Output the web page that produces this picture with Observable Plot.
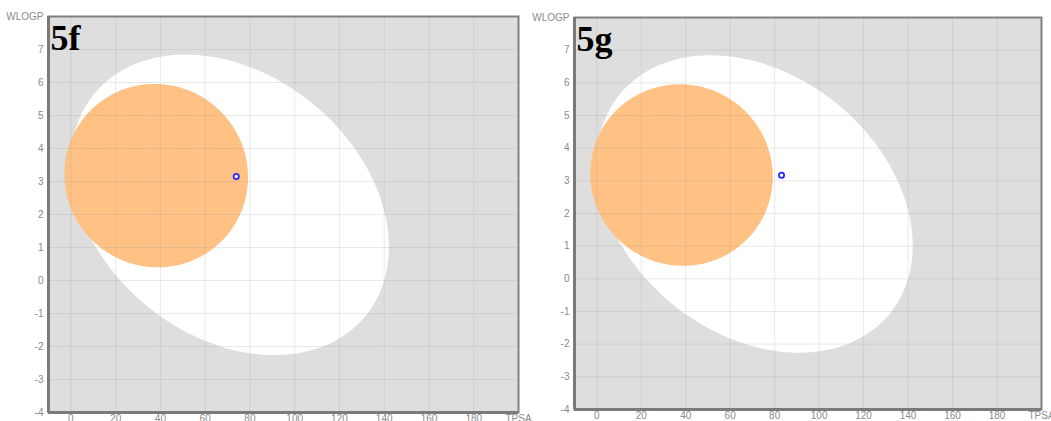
<!DOCTYPE html>
<html><head><meta charset="utf-8">
<script src="https://cdn.jsdelivr.net/npm/d3@7"></script>
<script src="https://cdn.jsdelivr.net/npm/@observablehq/plot@0.6"></script>
<style>
body{margin:0;background:#fff;width:1051px;height:421px;overflow:hidden;position:relative;font-family:Arial,"Liberation Sans",sans-serif}
.panel{position:absolute;top:0}
</style></head><body>
<div id="p1" class="panel" style="left:0"></div>
<div id="p2" class="panel" style="left:525px"></div>
<script>
// Data
const panelLabels = ["5f", "5g"];
const moleculeTPSA = [73.9, 83.1];
const moleculeWLOGP = [3.15, 3.17];
const xTicks = [0, 20, 40, 60, 80, 100, 120, 140, 160, 180, 200];
const yTicks = [-4, -3, -2, -1, 0, 1, 2, 3, 4, 5, 6, 7, 8];
const xAxisName = "TPSA";
const yAxisName = "WLOGP";
// BOILED-Egg ellipse definitions (center, full width, full height, angle in degrees)
const whiteEgg = {cx: 71.051, cy: 2.292, w: 142.081, h: 8.740, angle: -1.031325};
const yolkEgg = {cx: 38.117, cy: 3.177, w: 82.061, h: 5.557, angle: -0.066235};

function ellipsePoints(e, n = 240) {
  const a = e.w / 2, b = e.h / 2, th = e.angle * Math.PI / 180;
  const c = Math.cos(th), s = Math.sin(th);
  return d3.range(n + 1).map(i => {
    const t = 2 * Math.PI * i / n;
    return {x: e.cx + a * c * Math.cos(t) - b * s * Math.sin(t),
            y: e.cy + a * s * Math.cos(t) + b * c * Math.sin(t)};
  });
}
const whitePts = ellipsePoints(whiteEgg);
const yolkPts = ellipsePoints(yolkEgg);

const layouts = [
  {el: "#p1", width: 525, marginLeft: 48, marginRight: 7, marginTop: 16, marginBottom: 9},
  {el: "#p2", width: 526, marginLeft: 49, marginRight: 10, marginTop: 17, marginBottom: 12}
];

layouts.forEach((L, i) => {
  const mol = [{x: moleculeTPSA[i], y: moleculeWLOGP[i]}];
  const chart = Plot.plot({
    width: L.width, height: 421,
    marginLeft: L.marginLeft, marginRight: L.marginRight,
    marginTop: L.marginTop, marginBottom: L.marginBottom,
    style: {fontSize: "10px", color: "#8a8a8a", fontFamily: "Arial, 'Liberation Sans', sans-serif", background: "transparent", overflow: "visible"},
    x: {domain: [-10, 200], label: null},
    y: {domain: [-4, 8], label: null},
    marks: [
      Plot.frame({fill: "#dedede", stroke: null}),
      Plot.line(whitePts, {x: "x", y: "y", fill: "white", stroke: "none"}),
      Plot.line(yolkPts, {x: "x", y: "y", fill: "#ffbf80", stroke: "none", fillOpacity: 0.97}),
      Plot.gridX(xTicks.slice(0, -1), {stroke: "#999", strokeOpacity: 0.22, strokeWidth: 1}),
      Plot.gridY(yTicks.slice(1, -1), {stroke: "#999", strokeOpacity: 0.22, strokeWidth: 1}),
      Plot.axisX(xTicks, {tickSize: 0, tickPadding: 2, label: null,
        tickFormat: d => d === 200 ? xAxisName : String(d), fill: "#8a8a8a"}),
      Plot.axisY(yTicks, {tickSize: 0, tickPadding: 5, label: null,
        tickFormat: d => d === 8 ? yAxisName : String(d), fill: "#8a8a8a"}),
      Plot.frame({stroke: "#808080", strokeWidth: 2}),
      Plot.ruleX([-10], {stroke: "#7a7a7a", strokeWidth: 3}),
      Plot.ruleY([-4], {stroke: "#7a7a7a", strokeWidth: 3}),
      Plot.dot(mol, {x: "x", y: "y", r: 2.6, stroke: "#2b2bff", strokeWidth: 1.8, fill: "white"}),
      Plot.text([panelLabels[i]], {frameAnchor: "top-left", dx: 2, dy: 8, fontSize: 36,
        fontWeight: "bold", fontFamily: "'Liberation Serif', 'DejaVu Serif', serif", fill: "#000", lineAnchor: "top"})
    ]
  });
  document.querySelector(L.el).append(chart);
});
</script>
</body></html>
